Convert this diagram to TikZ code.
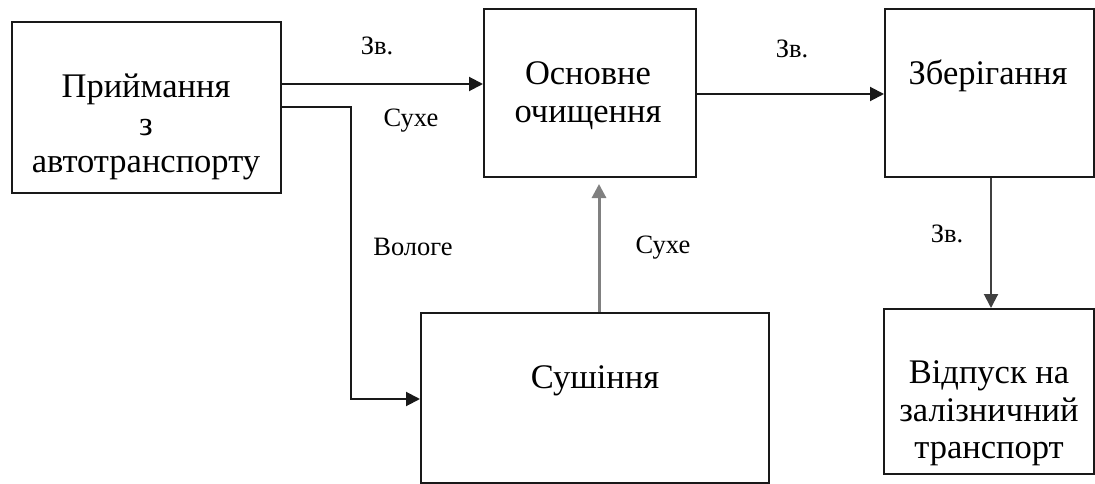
\documentclass[tikz,border=0pt]{standalone}
\usepackage{fontspec}
\setmainfont{Liberation Serif}
\usetikzlibrary{arrows.meta}
\begin{document}
\begin{tikzpicture}[x=1pt,y=-1pt,
 blk/.style={draw=black!90, line width=2pt, inner sep=0pt},
 txt/.style={font=\fontsize{34.5}{37.5}\selectfont, inner sep=0pt, align=center},
 lbl/.style={font=\fontsize{26.5}{30}\selectfont, inner sep=0pt, anchor=base},
 arr/.style={line width=2pt, draw=black!90, -{Triangle[length=14pt,width=14pt]}}]
\useasboundingbox (0,0) rectangle (1095,484);
% boxes
\node[blk, minimum width=269pt, minimum height=171pt] (b1) at (146.5,107.5) {};
\node[blk, minimum width=212pt, minimum height=168pt] (b2) at (590,93) {};
\node[blk, minimum width=209pt, minimum height=168pt] (b3) at (989.5,93) {};
\node[blk, minimum width=348pt, minimum height=170pt] (b4) at (595,398) {};
\node[blk, minimum width=210pt, minimum height=165pt] (b5) at (989,391.5) {};
% box texts
\node[txt] (t1) at (146,127) {Приймання\\з\\автотранспорту};
\node[txt] (t2) at (588,95.5) {Основне\\очищення};
\node[txt, anchor=base] (t3) at (988,85) {Зберігання};
\node[txt, anchor=base] (t4) at (595,388) {Сушіння};
\node[txt] (t5) at (989,413.5) {Відпуск на\\залізничний\\транспорт};
% helper coordinates
\coordinate (h1) at (0,84);
\coordinate (c1) at (351,107);
\coordinate (c2) at (351,399);
\coordinate (c3) at (599,0);
\coordinate (h4) at (0,94);
\coordinate (c5) at (991,0);
% connectors
\draw[arr] (b1.east |- h1) -- (b2.west |- h1);
\draw[arr] (b1.east |- c1) -- (c1) -- (c2) -- (b4.west |- c2);
\draw[arr, draw=black!50, line width=3pt] (b4.north -| c3) -- ([yshift=-6pt]b2.south -| c3);
\draw[arr, draw=black!75] (b3.south -| c5) -- (b5.north -| c5);
\draw[arr] (b2.east |- h4) -- (b3.west |- h4);
% labels
\node[lbl] (l1) at (377,55) {Зв.};
\node[lbl] (l2) at (792,58) {Зв.};
\node[lbl] (l3) at (947,242) {Зв.};
\node[lbl] (l4) at (411,127) {Сухе};
\node[lbl] (l5) at (413,255) {Вологе};
\node[lbl] (l6) at (663,253) {Сухе};
\end{tikzpicture}
\end{document}
